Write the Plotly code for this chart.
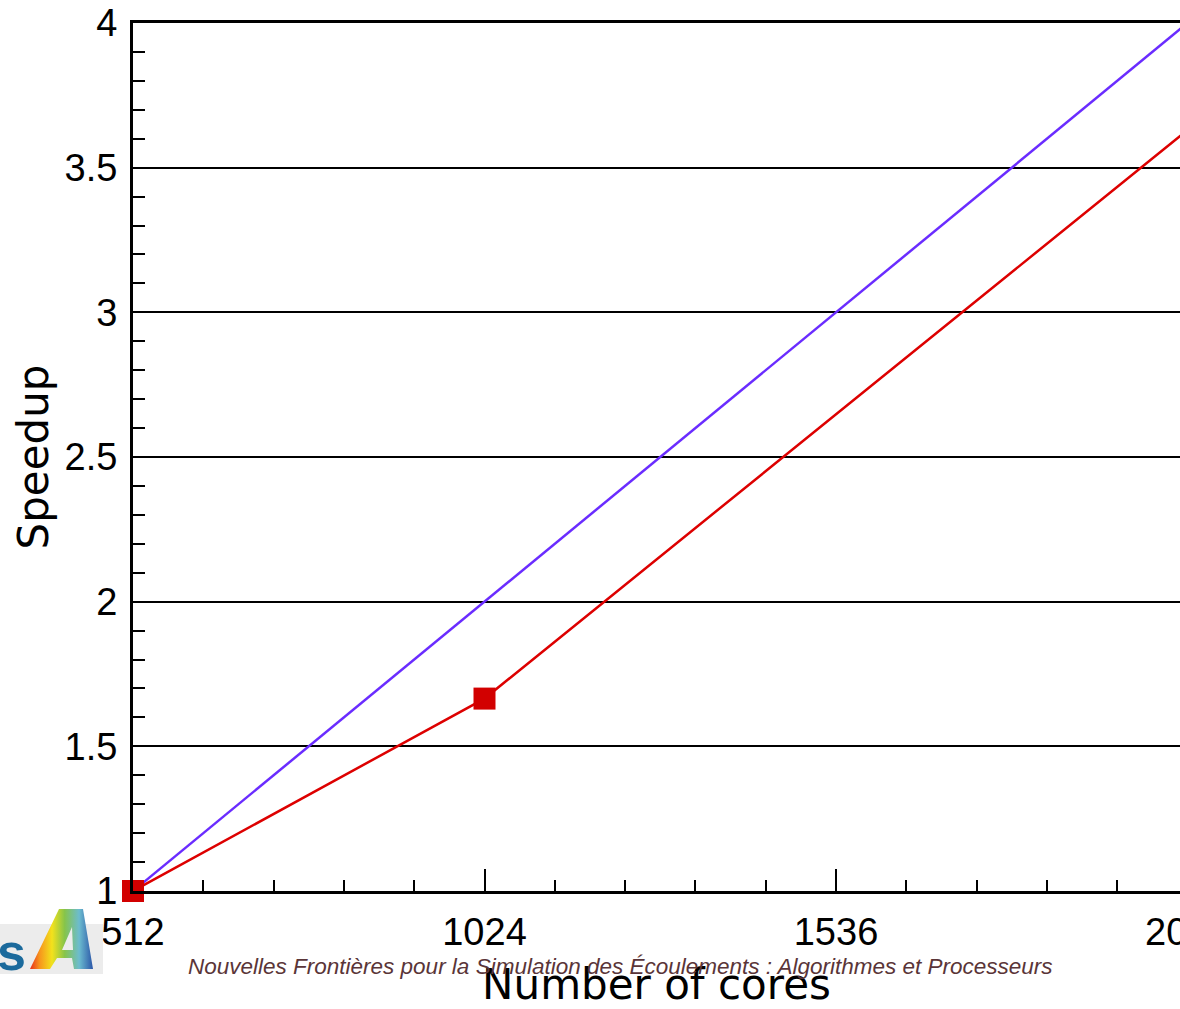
import base64
import plotly.graph_objects as go

# Strong-scaling data: number of cores vs. measured speedup
cores = [512, 1024, 2048]
speedup_measured = [1.0, 1.665, 3.63]

# Ideal (linear) speedup reference
ideal_cores = [512, 2048]
ideal_speedup = [1.0, 4.0]

x_tick_vals = [512, 1024, 1536, 2048]
x_tick_text = ["512", "1024", "1536", "2048"]
y_tick_vals = [1, 1.5, 2, 2.5, 3, 3.5, 4]
y_tick_text = ["1", "1.5", "2", "2.5", "3", "3.5", "4"]

footer_text = ("Nouvelles Frontières pour la Simulation des Écoulements : "
               "Algorithmes et Processeurs")

W, H = 1180, 1009
ML, MR, MT, MB = 133, 0, 23, 118
PW, PH = W - ML - MR, H - MT - MB
X_PER_PX = 512 / 351.5          # axis units per pixel along x
x_max = 512 + PW * X_PER_PX     # visible end of the x axis


def px_to_paper(px, py):
    return (px - ML) / PW, (H - MB - py) / PH


fig = go.Figure()

fig.add_trace(go.Scatter(
    x=ideal_cores, y=ideal_speedup, mode="lines",
    line=dict(color="#6a2cff", width=2.5),
    hoverinfo="skip", showlegend=False,
))
fig.add_trace(go.Scatter(
    x=cores, y=speedup_measured, mode="lines+markers",
    line=dict(color="#dd0000", width=2.5),
    marker=dict(symbol="square", size=22, color="#d20000"),
    cliponaxis=False, showlegend=False,
))

tick_font = dict(family="Liberation Sans, Arial, sans-serif", size=38, color="black")
title_font = dict(family="DejaVu Sans, sans-serif", size=42, color="black")

fig.update_xaxes(
    range=[512, x_max], tickvals=x_tick_vals, ticktext=x_tick_text,
    ticks="inside", ticklen=22, tickwidth=2, tickcolor="black",
    minor=dict(ticks="inside", ticklen=11, tickwidth=2, tickcolor="black",
               tick0=512, dtick=102.4, showgrid=False),
    showline=True, linewidth=3, linecolor="black", mirror=True,
    showgrid=False, zeroline=False,
    tickfont=tick_font, ticklabelstandoff=5,
    title=dict(text="Number of cores", font=title_font, standoff=23),
)
fig.update_yaxes(
    range=[1, 4], tickvals=y_tick_vals, ticktext=y_tick_text,
    ticks="inside", ticklen=23, tickwidth=2, tickcolor="black",
    minor=dict(ticks="inside", ticklen=12, tickwidth=2, tickcolor="black",
               dtick=0.1, showgrid=False),
    showline=True, linewidth=3, linecolor="black", mirror=False,
    showgrid=True, gridcolor="black", gridwidth=1.5, zeroline=False,
    tickfont=tick_font, ticklabelstandoff=5,
    title=dict(text="Speedup", font=title_font, standoff=3),
)

# label of the last major tick, which sits just past the visible edge
lx, ly = px_to_paper(1187.5, 932)
fig.add_annotation(x=lx, y=ly, xref="paper", yref="paper", text="2048",
                   showarrow=False, xanchor="center", yanchor="middle",
                   font=tick_font)

# footer line of the slide
fx, fy = px_to_paper(620.5, 966)
fig.add_annotation(x=fx, y=fy, xref="paper", yref="paper", text=footer_text,
                   showarrow=False, xanchor="center", yanchor="middle",
                   font=dict(family="Liberation Sans, Arial, sans-serif",
                             size=22.5, color="#5a3538", style="italic"))

# slide logo: grey band, blue "s" and a rainbow "A"
logo_svg = """<svg xmlns='http://www.w3.org/2000/svg' width='110' height='80' viewBox='0 0 110 80'>
<defs><linearGradient id='g' x1='30' y1='0' x2='93' y2='0' gradientUnits='userSpaceOnUse'>
<stop offset='0' stop-color='#e8301c'/><stop offset='0.15' stop-color='#f7941d'/>
<stop offset='0.35' stop-color='#f2e21c'/><stop offset='0.55' stop-color='#86c44a'/>
<stop offset='0.78' stop-color='#6cbccf'/><stop offset='1' stop-color='#2b56a8'/>
</linearGradient></defs>
<rect x='0' y='24' width='103' height='50' fill='#ececec'/>
<text x='-3' y='70' font-family='Liberation Sans, Arial' font-weight='bold' font-size='52' fill='#1b6a9c'>s</text>
<path d='M30 69 L59 9 L83 9 L93 69 L74 69 L72 58 L57 58 L50 69 Z M62 50 L73 50 L72 27 Z' fill='url(#g)' fill-rule='evenodd'/>
</svg>"""
logo_src = "data:image/svg+xml;base64," + base64.b64encode(logo_svg.encode()).decode()
gx, gy = px_to_paper(0, 900)
fig.add_layout_image(source=logo_src, xref="paper", yref="paper", x=gx, y=gy,
                     sizex=110 / PW, sizey=80 / PH, xanchor="left", yanchor="top",
                     sizing="stretch", layer="above")

fig.update_layout(
    width=W, height=H,
    margin=dict(l=ML, r=MR, t=MT, b=MB, pad=0),
    paper_bgcolor="white", plot_bgcolor="white",
    showlegend=False,
)

fig.write_html("out.html")
